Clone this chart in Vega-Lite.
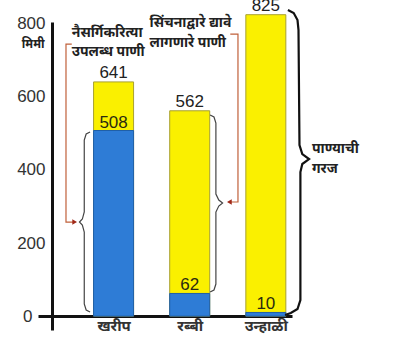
{
  "$schema": "https://vega.github.io/schema/vega-lite/v6.json",
  "width": 254,
  "height": 308,
  "autosize": "none",
  "padding": {"left": 38, "top": 22, "right": 108, "bottom": 16},
  "background": "white",
  "config": {"view": {"stroke": null}},
  "datasets": {
    "bars": [
      {"season": "खरीप", "n": 1, "natural": 508, "total": 641},
      {"season": "रब्बी", "n": 2, "natural": 62, "total": 562},
      {"season": "उन्हाळी", "n": 3, "natural": 10, "total": 825}
    ],
    "braces": [
      {"g": "b1", "i": 0, "x": 0.691, "y": 503.8},
      {"g": "b1", "i": 1, "x": 0.640, "y": 498.4},
      {"g": "b1", "i": 2, "x": 0.615, "y": 481.9},
      {"g": "b1", "i": 3, "x": 0.615, "y": 284.9},
      {"g": "b1", "i": 4, "x": 0.590, "y": 265.7},
      {"g": "b1", "i": 5, "x": 0.552, "y": 257.5},
      {"g": "b1", "i": 6, "x": 0.590, "y": 249.3},
      {"g": "b1", "i": 7, "x": 0.615, "y": 230.2},
      {"g": "b1", "i": 8, "x": 0.615, "y": 33.1},
      {"g": "b1", "i": 9, "x": 0.640, "y": 16.7},
      {"g": "b1", "i": 10, "x": 0.691, "y": 11.2},
      {"g": "b2", "i": 0, "x": 2.268, "y": 550.4},
      {"g": "b2", "i": 1, "x": 2.319, "y": 544.9},
      {"g": "b2", "i": 2, "x": 2.344, "y": 528.5},
      {"g": "b2", "i": 3, "x": 2.344, "y": 334.2},
      {"g": "b2", "i": 4, "x": 2.382, "y": 317.7},
      {"g": "b2", "i": 5, "x": 2.432, "y": 309.5},
      {"g": "b2", "i": 6, "x": 2.382, "y": 301.3},
      {"g": "b2", "i": 7, "x": 2.344, "y": 284.9},
      {"g": "b2", "i": 8, "x": 2.344, "y": 87.8},
      {"g": "b2", "i": 9, "x": 2.319, "y": 71.4},
      {"g": "b2", "i": 10, "x": 2.268, "y": 66.0}
    ],
    "bigbrace": [
      {"i": 0, "x": 3.290, "y": 837.7},
      {"i": 1, "x": 3.366, "y": 829.5},
      {"i": 2, "x": 3.416, "y": 810.3},
      {"i": 3, "x": 3.429, "y": 783.0},
      {"i": 4, "x": 3.442, "y": 468.3},
      {"i": 5, "x": 3.479, "y": 443.6},
      {"i": 6, "x": 3.568, "y": 429.9},
      {"i": 7, "x": 3.479, "y": 416.3},
      {"i": 8, "x": 3.454, "y": 394.4},
      {"i": 9, "x": 3.454, "y": 44.1},
      {"i": 10, "x": 3.416, "y": 19.4},
      {"i": 11, "x": 3.328, "y": 8.5},
      {"i": 12, "x": 3.252, "y": 3.0}
    ],
    "connectors": [
      {"g": "c1", "i": 0, "x": 0.451, "y": 744.7},
      {"g": "c1", "i": 1, "x": 0.375, "y": 744.7},
      {"g": "c1", "i": 2, "x": 0.375, "y": 257.5},
      {"g": "c1", "i": 3, "x": 0.476, "y": 257.5},
      {"g": "c2", "i": 0, "x": 2.533, "y": 772.0},
      {"g": "c2", "i": 1, "x": 2.634, "y": 772.0},
      {"g": "c2", "i": 2, "x": 2.634, "y": 312.3},
      {"g": "c2", "i": 3, "x": 2.533, "y": 312.3}
    ],
    "arrows": [
      {"dir": "triangle-right", "x": 0.489, "y": 257.5},
      {"dir": "triangle-left", "x": 2.521, "y": 312.3}
    ],
    "notes": [
      {"text": "नैसर्गिकरित्या", "x": 0.451, "y": 774.7},
      {"text": "उपलब्ध पाणी", "x": 0.451, "y": 722.8},
      {"text": "सिंचनाद्वारे द्यावे", "x": 1.473, "y": 802.1},
      {"text": "लागणारे पाणी", "x": 1.473, "y": 747.4},
      {"text": "पाण्याची", "x": 3.606, "y": 457.3},
      {"text": "गरज", "x": 3.606, "y": 402.6}
    ]
  },
  "layer": [
    {
      "data": {"name": "bars"},
      "mark": {"type": "bar", "width": 40, "color": "#FAF000", "stroke": "#A8A030", "strokeWidth": 1},
      "encoding": {
        "x": {
          "field": "n", "type": "quantitative",
          "scale": {"domain": [0.073, 3.278], "nice": false, "zero": false},
          "axis": {
            "values": [1, 2, 3],
            "labelExpr": "['', 'खरीप', 'रब्बी', 'उन्हाळी'][datum.value]",
            "title": null, "grid": false, "ticks": false, "tickSize": 0,
            "domainColor": "#111", "domainWidth": 3, "offset": -14,
            "labelFont": "Noto Sans Devanagari, Noto Sans, sans-serif",
            "labelFontSize": 15, "labelFontWeight": "bold", "labelColor": "#333",
            "labelPadding": 2
          }
        },
        "y": {
          "field": "total", "type": "quantitative",
          "scale": {"domain": [-38, 805], "nice": false, "zero": false},
          "axis": {
            "values": [0, 200, 400, 600, 800],
            "title": "मिमी", "titleAngle": 0, "titleX": -8, "titleY": 21,
            "titleAlign": "right", "titleBaseline": "middle",
            "titleFont": "Noto Sans Devanagari, Noto Sans, sans-serif",
            "titleFontSize": 12, "titleFontWeight": "bold", "titleColor": "#222",
            "grid": false, "ticks": false, "tickSize": 0,
            "domainColor": "#111", "domainWidth": 3, "offset": -14,
            "labelFont": "Liberation Sans", "labelFontSize": 17,
            "labelColor": "#333",
            "labelPadding": {"condition": {"test": "datum.value === 0", "value": 20}, "value": 7}
          }
        }
      }
    },
    {
      "data": {"name": "bars"},
      "mark": {"type": "bar", "width": 40, "color": "#2E7CD6", "stroke": "#1F5FA8", "strokeWidth": 1},
      "encoding": {
        "x": {"field": "n", "type": "quantitative"},
        "y": {"field": "natural", "type": "quantitative"}
      }
    },
    {
      "data": {"name": "bars"},
      "mark": {"type": "text", "font": "Liberation Sans", "fontSize": 17, "color": "#222", "baseline": "alphabetic", "dy": -4},
      "encoding": {
        "x": {"field": "n", "type": "quantitative"},
        "y": {"field": "total", "type": "quantitative"},
        "text": {"field": "total"}
      }
    },
    {
      "data": {"name": "bars"},
      "mark": {"type": "text", "font": "Liberation Sans", "fontSize": 17, "color": "#2a2a10", "baseline": "alphabetic", "dy": -3},
      "encoding": {
        "x": {"field": "n", "type": "quantitative"},
        "y": {"field": "natural", "type": "quantitative"},
        "text": {"field": "natural"}
      }
    },
    {
      "data": {"name": "braces"},
      "mark": {"type": "line", "color": "#444", "strokeWidth": 1.2},
      "encoding": {
        "x": {"field": "x", "type": "quantitative"},
        "y": {"field": "y", "type": "quantitative"},
        "detail": {"field": "g"},
        "order": {"field": "i"}
      }
    },
    {
      "data": {"name": "bigbrace"},
      "mark": {"type": "line", "color": "#111", "strokeWidth": 2.2},
      "encoding": {
        "x": {"field": "x", "type": "quantitative"},
        "y": {"field": "y", "type": "quantitative"},
        "order": {"field": "i"}
      }
    },
    {
      "data": {"name": "connectors"},
      "mark": {"type": "line", "color": "#C0603A", "strokeWidth": 1.2},
      "encoding": {
        "x": {"field": "x", "type": "quantitative"},
        "y": {"field": "y", "type": "quantitative"},
        "detail": {"field": "g"},
        "order": {"field": "i"}
      }
    },
    {
      "data": {"name": "arrows"},
      "mark": {"type": "point", "filled": true, "size": 30, "color": "#A02818", "opacity": 1},
      "encoding": {
        "x": {"field": "x", "type": "quantitative"},
        "y": {"field": "y", "type": "quantitative"},
        "shape": {"field": "dir", "type": "nominal", "scale": null}
      }
    },
    {
      "data": {"name": "notes"},
      "mark": {"type": "text", "align": "left", "baseline": "middle", "font": "Noto Sans Devanagari, Noto Sans, sans-serif", "fontSize": 14, "fontWeight": "bold", "color": "#222"},
      "encoding": {
        "x": {"field": "x", "type": "quantitative"},
        "y": {"field": "y", "type": "quantitative"},
        "text": {"field": "text"}
      }
    }
  ]
}
